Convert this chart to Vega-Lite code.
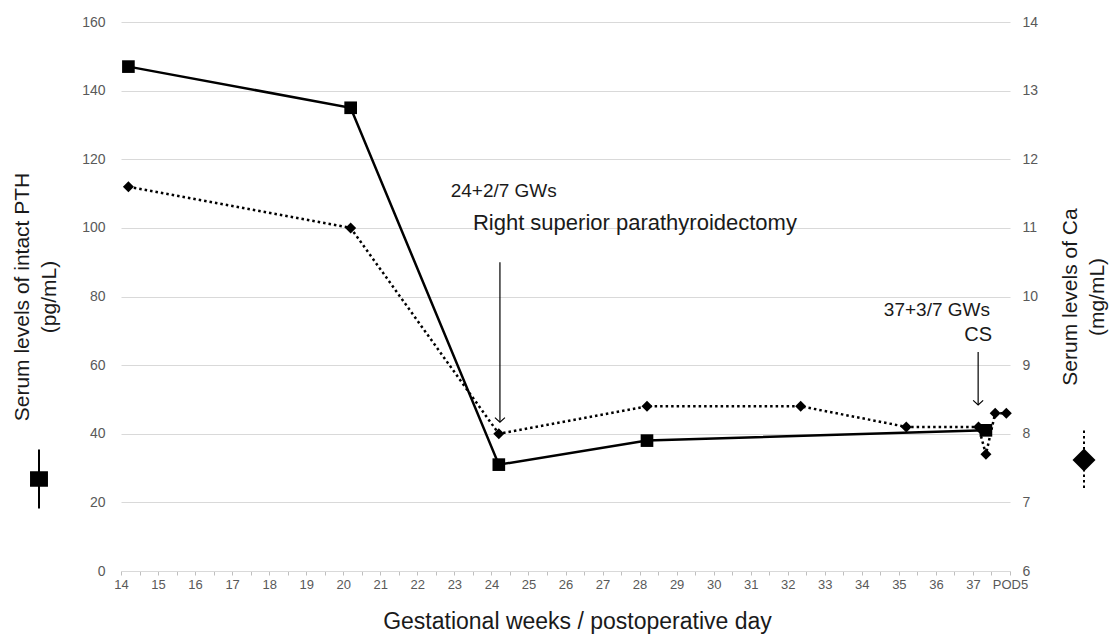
{
  "$schema": "https://vega.github.io/schema/vega-lite/v6.json",
  "width": 889,
  "height": 549,
  "autosize": {"type": "none"},
  "padding": {"left": 121, "top": 22, "right": 101, "bottom": 65},
  "background": "white",
  "config": {
    "view": {"stroke": null},
    "font": "Liberation Sans",
    "axis": {"labelFont": "Liberation Sans", "titleFont": "Liberation Sans", "labelColor": "#595959", "titleColor": "#1a1a1a", "titleFontWeight": "normal"},
    "axisX": {"labelOverlap": false, "labelFlush": false}
  },
  "datasets": {
    "pth": [
      {"series": "PTH", "week": 14.2, "value": 147},
      {"series": "PTH", "week": 20.2, "value": 135},
      {"series": "PTH", "week": 24.2, "value": 31},
      {"series": "PTH", "week": 28.2, "value": 38},
      {"series": "PTH", "week": 37.35, "value": 41}
    ],
    "ca": [
      {"series": "Ca", "week": 14.2, "value": 11.6},
      {"series": "Ca", "week": 20.2, "value": 11.0},
      {"series": "Ca", "week": 24.2, "value": 8.0},
      {"series": "Ca", "week": 28.2, "value": 8.4},
      {"series": "Ca", "week": 32.35, "value": 8.4},
      {"series": "Ca", "week": 35.2, "value": 8.1},
      {"series": "Ca", "week": 37.15, "value": 8.1},
      {"series": "Ca", "week": 37.35, "value": 7.7},
      {"series": "Ca", "week": 37.6, "value": 8.3},
      {"series": "Ca", "week": 37.9, "value": 8.3}
    ]
  },
  "layer": [
    {
      "layer": [
        {
          "data": {"name": "pth"},
          "mark": {"type": "line", "color": "black", "strokeWidth": 2.5},
          "encoding": {
            "x": {"field": "week", "type": "quantitative",
              "scale": {"domain": [14, 38], "nice": false, "zero": false},
              "axis": {
                "orient": "bottom",
                "title": "Gestational weeks / postoperative day",
                "titleFontSize": 23, "titlePadding": 19, "titleX": 456,
                "values": [14,14.5,15,15.5,16,16.5,17,17.5,18,18.5,19,19.5,20,20.5,21,21.5,22,22.5,23,23.5,24,24.5,25,25.5,26,26.5,27,27.5,28,28.5,29,29.5,30,30.5,31,31.5,32,32.5,33,33.5,34,34.5,35,35.5,36,36.5,37,37.5,38],
                "tickCount": 200,
                "labelExpr": "datum.value == 38 ? 'POD5' : (datum.value % 1 == 0 ? format(datum.value, 'd') : '')",
                "labelFontSize": 13, "labelPadding": 3,
                "grid": false, "domainColor": "#d9d9d9", "tickColor": "#bfbfbf", "tickSize": 4,
                "labelOverlap": false, "labelFlush": false
              }
            },
            "y": {"field": "value", "type": "quantitative",
              "scale": {"domain": [0, 160], "nice": false},
              "axis": {
                "title": ["Serum levels of intact PTH", "(pg/mL)"],
                "titleFontSize": 21, "titleLineHeight": 27, "titlePadding": 22,
                "values": [0,20,40,60,80,100,120,140,160], "tickCount": 50,
                "labelFontSize": 14, "labelPadding": 16,
                "grid": true, "gridColor": "#d9d9d9", "domain": false, "ticks": false
              }
            }
          }
        },
        {
          "data": {"name": "pth"},
          "mark": {"type": "point", "shape": "square", "filled": true, "size": 160, "opacity": 1},
          "encoding": {
            "x": {"field": "week", "type": "quantitative"},
            "y": {"field": "value", "type": "quantitative"},
            "color": {"field": "series", "type": "nominal",
              "scale": {"range": ["black"]},
              "legend": {
                "orient": "none", "legendX": -112.5, "legendY": 426.5,
                "title": null, "labelExpr": "''", "padding": 0, "offset": 0,
                "symbolType": "M-0.27,-0.23H0.27V0.23H-0.27Z M0,-1V1",
                "symbolSize": 3481, "symbolFillColor": "black", "symbolStrokeColor": "black", "symbolStrokeWidth": 2,
                "encode": {"symbols": {"update": {"fill": {"value": "black"}, "stroke": {"value": "black"}, "strokeWidth": {"value": 2}, "opacity": {"value": 1}}}}
              }
            }
          }
        },
        {
          "data": {"values": [{"week": 24.23, "y1": 90, "y2": 43.4}, {"week": 37.14, "y1": 63.8, "y2": 48.4}]},
          "mark": {"type": "rule", "color": "black", "strokeWidth": 1.2},
          "encoding": {
            "x": {"field": "week", "type": "quantitative"},
            "y": {"field": "y1", "type": "quantitative"},
            "y2": {"field": "y2"}
          }
        },
        {
          "data": {"values": [{"week": 24.23, "tip": 43.4}, {"week": 37.14, "tip": 48.4}]},
          "mark": {"type": "point", "shape": "M-1,-0.9L0,0L1,-0.9", "filled": false, "stroke": "black", "strokeWidth": 1.2, "size": 100, "opacity": 1},
          "encoding": {
            "x": {"field": "week", "type": "quantitative"},
            "y": {"field": "tip", "type": "quantitative"}
          }
        },
        {
          "data": {"values": [{"note": "24+2/7 GWs", "week": 22.9, "level": 110.8}]},
          "mark": {"type": "text", "align": "left", "baseline": "middle", "fontSize": 19, "color": "#1a1a1a", "font": "Liberation Sans"},
          "encoding": {
            "x": {"field": "week", "type": "quantitative"},
            "y": {"field": "level", "type": "quantitative"},
            "text": {"field": "note"}
          }
        },
        {
          "data": {"values": [{"note": "Right superior parathyroidectomy", "week": 23.5, "level": 101.4}]},
          "mark": {"type": "text", "align": "left", "baseline": "middle", "fontSize": 22, "color": "#1a1a1a", "font": "Liberation Sans"},
          "encoding": {
            "x": {"field": "week", "type": "quantitative"},
            "y": {"field": "level", "type": "quantitative"},
            "text": {"field": "note"}
          }
        },
        {
          "data": {"values": [{"note": "37+3/7 GWs", "week": 37.46, "level": 76.1}]},
          "mark": {"type": "text", "align": "right", "baseline": "middle", "fontSize": 19, "color": "#1a1a1a", "font": "Liberation Sans"},
          "encoding": {
            "x": {"field": "week", "type": "quantitative"},
            "y": {"field": "level", "type": "quantitative"},
            "text": {"field": "note"}
          }
        },
        {
          "data": {"values": [{"note": "CS", "week": 37.14, "level": 68.8}]},
          "mark": {"type": "text", "align": "center", "baseline": "middle", "fontSize": 20, "color": "#1a1a1a", "font": "Liberation Sans"},
          "encoding": {
            "x": {"field": "week", "type": "quantitative"},
            "y": {"field": "level", "type": "quantitative"},
            "text": {"field": "note"}
          }
        }
      ]
    },
    {
      "layer": [
        {
          "data": {"name": "ca"},
          "mark": {"type": "line", "color": "black", "strokeWidth": 2.5},
          "encoding": {
            "x": {"field": "week", "type": "quantitative"},
            "y": {"field": "value", "type": "quantitative",
              "scale": {"domain": [6, 14], "nice": false, "zero": false},
              "axis": {
                "orient": "right",
                "title": ["Serum levels of Ca", "(mg/mL)"],
                "titleAngle": -90,
                "titleFontSize": 21, "titleLineHeight": 27, "titlePadding": 16,
                "values": [6,7,8,9,10,11,12,13,14], "tickCount": 50, "format": "d",
                "labelFontSize": 14, "labelPadding": 12,
                "grid": false, "domain": false, "ticks": false
              }
            },
            "strokeDash": {"field": "series", "type": "nominal",
              "scale": {"domain": ["Ca"], "range": [[2.5, 3]]},
              "legend": {
                "orient": "none", "legendX": 932.5, "legendY": 407.5,
                "title": null, "labelExpr": "''", "padding": 0, "offset": 0,
                "symbolType": "M0,-1V1", "symbolSize": 3481,
                "symbolStrokeColor": "black", "symbolStrokeWidth": 2, "symbolDash": [2, 2],
                "encode": {"symbols": {"update": {"fill": {"value": "transparent"}, "stroke": {"value": "black"}, "strokeWidth": {"value": 2}, "strokeDash": {"value": [2, 2]}, "opacity": {"value": 1}}}}
              }
            }
          }
        },
        {
          "data": {"name": "ca"},
          "mark": {"type": "point", "shape": "diamond", "filled": true, "size": 121, "opacity": 1},
          "encoding": {
            "x": {"field": "week", "type": "quantitative"},
            "y": {"field": "value", "type": "quantitative"},
            "color": {"field": "series", "type": "nominal",
              "scale": {"range": ["black"]},
              "legend": {
                "orient": "none", "legendX": 950.5, "legendY": 425.5,
                "title": null, "labelExpr": "''", "padding": 0, "offset": 0,
                "symbolType": "diamond", "symbolSize": 529,
                "encode": {"symbols": {"update": {"fill": {"value": "black"}, "stroke": {"value": "transparent"}, "opacity": {"value": 1}}}}
              }
            }
          }
        }
      ]
    }
  ],
  "resolve": {"scale": {"y": "independent", "color": "independent"}}
}
